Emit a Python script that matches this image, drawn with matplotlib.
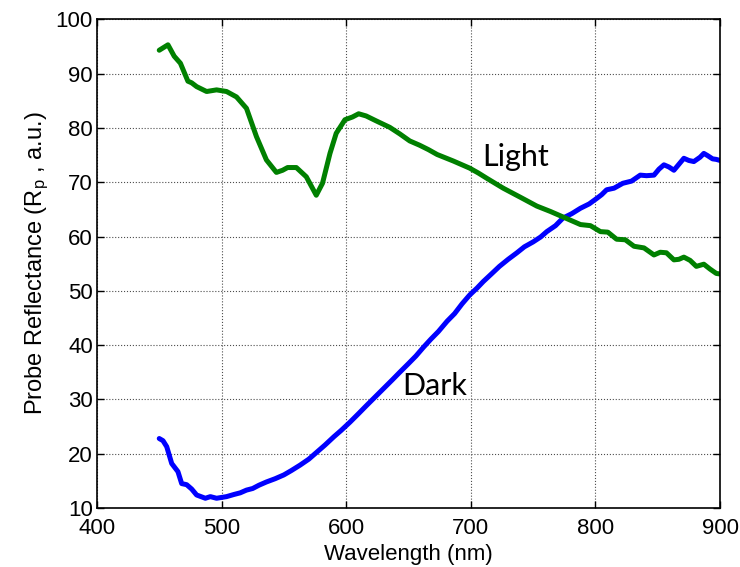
import matplotlib.pyplot as plt
import numpy as np

# Dados
light_x = [450, 457, 462, 467, 473, 476, 480, 488, 496, 504, 512, 520, 528, 536, 544, 549,
           553, 560, 568, 576, 581, 587, 592, 599, 605, 610, 616, 624, 635, 643, 651, 659,
           666, 673, 686, 699, 706, 713, 726, 740, 753, 764, 774, 780, 788, 796, 804, 810,
           817, 824, 831, 839, 847, 852, 857, 863, 867, 871, 876, 881, 887, 892, 897, 900]
light_y = [94.3, 95.3, 93.2, 91.9, 88.6, 88.3, 87.6, 86.7, 87.0, 86.7, 85.7, 83.6, 78.4, 74.1,
           71.8, 72.2, 72.7, 72.7, 71.0, 67.6, 69.8, 75.3, 79.0, 81.5, 82.0, 82.6, 82.2, 81.3,
           80.1, 78.9, 77.6, 76.8, 76.0, 75.1, 73.9, 72.6, 71.7, 70.7, 68.9, 67.2, 65.6, 64.6,
           63.6, 63.0, 62.2, 62.0, 60.9, 60.8, 59.5, 59.4, 58.2, 57.9, 56.6, 57.1, 57.0, 55.7,
           55.8, 56.2, 55.6, 54.5, 54.9, 54.0, 53.2, 53.1]

dark_x = [450, 453, 456, 460, 465, 468, 472, 476, 480, 487, 491, 496, 504, 510, 515, 520,
          525, 530, 536, 543, 550, 556, 563, 570, 576, 583, 590, 596, 603, 610, 616, 623,
          630, 637, 643, 650, 656, 662, 668, 674, 681, 687, 693, 699, 705, 710, 717, 723,
          730, 737, 743, 750, 756, 761, 768, 774, 781, 788, 795, 801, 805, 809, 815, 822,
          829, 836, 841, 847, 851, 855, 859, 863, 867, 871, 875, 879, 884, 887, 890, 894,
          897, 900]
dark_y = [22.8, 22.4, 21.3, 18.2, 16.7, 14.5, 14.3, 13.5, 12.4, 11.8, 12.1, 11.8, 12.1, 12.5,
          12.8, 13.3, 13.6, 14.2, 14.8, 15.4, 16.1, 16.9, 17.9, 19.0, 20.2, 21.6, 23.1, 24.3,
          25.8, 27.4, 28.8, 30.4, 32.0, 33.6, 35.0, 36.6, 38.0, 39.6, 41.1, 42.5, 44.4, 45.8,
          47.6, 49.2, 50.5, 51.7, 53.2, 54.5, 55.8, 57.0, 58.1, 59.0, 59.9, 60.9, 62.0, 63.4,
          64.2, 65.2, 66.0, 67.0, 67.7, 68.6, 68.9, 69.8, 70.2, 71.3, 71.2, 71.3, 72.4, 73.2,
          72.8, 72.2, 73.3, 74.4, 74.0, 73.8, 74.6, 75.3, 74.9, 74.3, 74.2, 74.0]

plt.rcParams['font.family'] = ['Liberation Sans', 'DejaVu Sans']
plt.rcParams['mathtext.fontset'] = 'custom'
plt.rcParams['mathtext.rm'] = 'Liberation Sans'
plt.rcParams['mathtext.it'] = 'Liberation Sans'

fig = plt.figure(figsize=(7.4, 5.67), dpi=100)
ax = fig.add_axes([0.131, 0.104, 0.842, 0.862])

ax.plot(dark_x, dark_y, color=(0, 0, 1), linewidth=3.6, solid_capstyle='round')
ax.plot(light_x, light_y, color=(0, 0.5, 0), linewidth=3.6, solid_capstyle='round')

ax.text(709, 72.9, 'Light', fontsize=22, family='Lato', ha='left', va='baseline')
ax.text(644.8, 30.8, 'Dark', fontsize=22, family='Lato', ha='left', va='baseline')

ax.set_xlim(400, 900)
ax.set_ylim(10, 100)
ax.set_xticks(np.arange(400, 901, 100))
ax.set_yticks(np.arange(10, 101, 10))
ax.grid(True, linestyle=':', color='0.3', linewidth=0.8)
ax.tick_params(direction='in', top=True, right=True, length=5, width=1, labelsize=16)
ax.tick_params(axis='x', pad=7)
ax.tick_params(axis='y', pad=3)
for s in ax.spines.values():
    s.set_linewidth(1.2)

ax.set_xlabel('Wavelength (nm)', fontsize=16, labelpad=4)
ax.set_ylabel(r'Probe Reflectance (R$_\mathrm{p}$ , a.u.)', fontsize=17, labelpad=3)

fig.savefig('out.png', dpi=100)
